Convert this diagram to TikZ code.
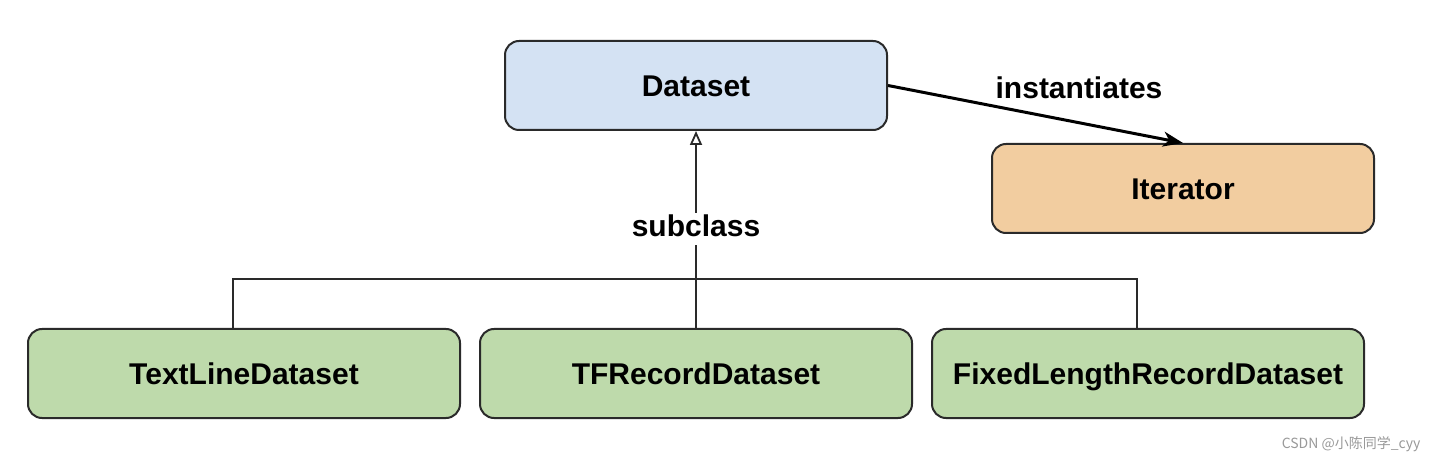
\documentclass[tikz,border=0pt]{standalone}
\usepackage{fontspec}
\setmainfont{Liberation Sans}
\newfontfamily\cjk{Noto Sans CJK SC}
\usetikzlibrary{arrows.meta}
\definecolor{dsblue}{HTML}{D4E2F3}
\definecolor{itorange}{HTML}{F2CDA0}
\definecolor{subgreen}{HTML}{BEDAAB}
\definecolor{edge}{HTML}{2A2A2A}
\tikzset{
  cls/.style={draw=edge, line width=2pt, rounded corners=14pt, minimum width=382pt, minimum height=89pt, inner sep=0pt, text height=22pt, text depth=0pt, font=\fontsize{30}{34}\selectfont\bfseries},
  lbl/.style={font=\fontsize{30}{34}\selectfont\bfseries, inner sep=2pt},
  conn/.style={draw=edge, line width=1.8pt},
}
\begin{document}
\begin{tikzpicture}[x=1pt,y=-1pt]
\useasboundingbox (0,0) rectangle (1438,462);
\node[cls, fill=dsblue] (ds) at (696,85.5) {Dataset};
\node[cls, fill=itorange] (it) at (1183,188.5) {Iterator};
\node[cls, fill=subgreen, minimum width=432pt] (tl) at (244,373.5) {TextLineDataset};
\node[cls, fill=subgreen, minimum width=432pt] (tf) at (696,373.5) {TFRecordDataset};
\node[cls, fill=subgreen, minimum width=432pt] (fl) at (1148,373.5) {FixedLengthRecordDataset};
\coordinate (j1) at (233,279);
\coordinate (j3) at (1137,279);
\draw[conn] (tl.north -| j1) -- (j1) -- (j3) -- (fl.north -| j3);
\draw[conn, -{Triangle[open, length=14pt, width=12pt, line width=1.8pt]}] (tf.north) -- (ds.south);
\node[lbl, fill=white, text height=22pt, text depth=6pt] (sub) at (696,229) {subclass};
\draw[line width=3pt, draw=black, -{Stealth[length=20pt, width=15pt, inset=6pt]}] (ds.east) -- (it.north);
\node[lbl] (inst) at (1079,88) {instantiates};
\node[anchor=east, text=gray!80, font=\cjk\fontsize{14}{16}\selectfont] (wm) at (1424,444) {CSDN @小陈同学\_cyy};
\end{tikzpicture}
\end{document}
